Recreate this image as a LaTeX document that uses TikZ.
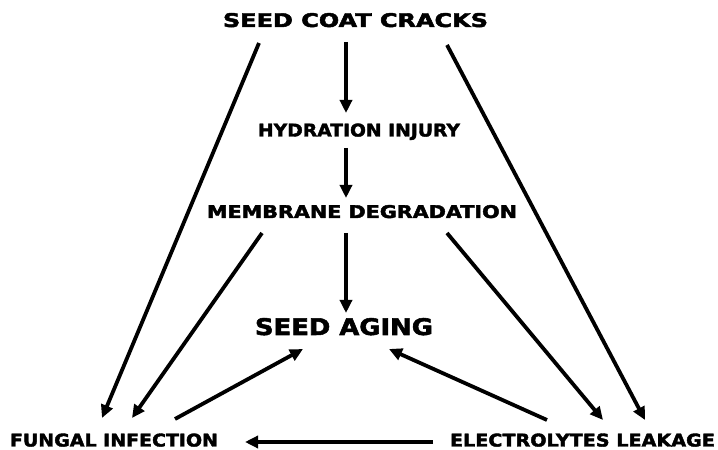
\documentclass[tikz,border=0pt]{standalone}
\usepackage{fontspec}
\usepackage{graphicx}
\setmainfont{DejaVu Sans}
\newfontfamily\heavyfont{DejaVu Sans Bold}[FakeBold=2.2]
\usetikzlibrary{arrows.meta}
\newcommand{\lbl}[3]{\resizebox{#1pt}{#2pt}{\raisebox{0pt}[\height][0pt]{\heavyfont #3}}}
\tikzset{
  lab/.style={inner sep=0pt, outer sep=0pt, anchor=center},
  conn/.style={line width=3.8pt, -{Triangle[length=13pt,width=12pt]}},
}
\begin{document}
\begin{tikzpicture}[x=1pt,y=1pt]
\useasboundingbox (0,0) rectangle (718,450);
\node[lab] (sc) at (355.5,430) {\lbl{265}{14}{SEED COAT CRACKS}};
\node[lab] (hi) at (359,320) {\lbl{202}{13}{HYDRATION INJURY}};
\node[lab] (md) at (362,238.5) {\lbl{310}{13}{MEMBRANE DEGRADATION}};
\node[lab] (sa) at (344,123.5) {\lbl{178}{17}{SEED AGING}};
\node[lab] (fi) at (114,10) {\lbl{208}{13}{FUNGAL INFECTION}};
\node[lab] (el) at (582.5,10) {\lbl{265}{13}{ELECTROLYTES LEAKAGE}};

\draw[conn] ([shift={(-9.5,-22)}]sc.center) -- ([shift={(-13,17)}]hi.center);
\draw[conn] ([shift={(-13,-18)}]hi.center) -- ([shift={(-16,13.5)}]md.center);
\draw[conn] ([shift={(-16,-21.5)}]md.center) -- ([shift={(2,13.5)}]sa.center);
\draw[conn] ([shift={(-96.5,-23)}]sc.center) -- ([shift={(-12,22)}]fi.center);
\draw[conn] ([shift={(91.5,-25)}]sc.center) -- ([shift={(62.5,20)}]el.center);
\draw[conn] ([shift={(-100,-21.5)}]md.center) -- ([shift={(18,22)}]fi.center);
\draw[conn] ([shift={(85,-21.5)}]md.center) -- ([shift={(20.5,20)}]el.center);
\draw[conn] ([shift={(61,21)}]fi.center) -- ([shift={(-41,-22.5)}]sa.center);
\draw[conn] ([shift={(-35.5,20)}]el.center) -- ([shift={(45,-22.5)}]sa.center);
\draw[conn] ([shift={(-149.5,-2)}]el.center) -- ([shift={(131,-2)}]fi.center);
\end{tikzpicture}
\end{document}
